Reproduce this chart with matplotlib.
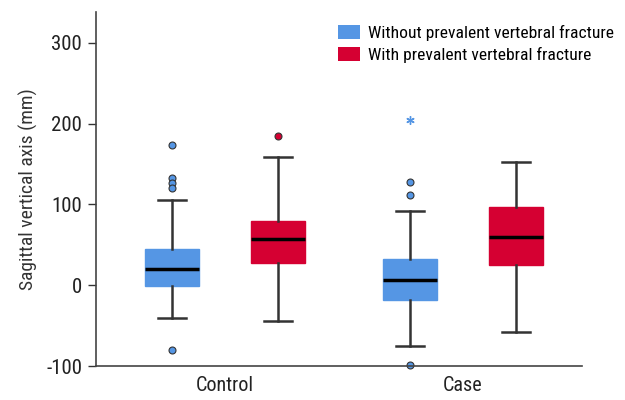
import numpy as np
import matplotlib.pyplot as plt

plt.rcParams['font.family'] = ['Roboto Condensed', 'Liberation Sans Narrow', 'Liberation Sans', 'DejaVu Sans']

groups = ['Control', 'Case']
series = ['Without prevalent vertebral fracture', 'With prevalent vertebral fracture']
colors = ['#5596e4', '#d50032']

# five-number summaries: [whislo, q1, med, q3, whishi]
without_stats = [[-40, -1, 20, 45, 105],
                 [-75, -18, 7, 33, 92]]
with_stats = [[-44, 28, 57, 80, 158],
              [-58, 25, 59, 97, 152]]
without_fliers = [[174, 133, 127, 120, -80],
                  [128, 112, -99]]
with_fliers = [[184], []]
without_extreme = [[], [204]]

yticks = [-100, 0, 100, 200, 300]

fig = plt.figure(figsize=(6.25, 4), dpi=100)
ax = fig.add_axes([0.1536, 0.085, 0.7776, 0.885])

pos = np.arange(len(groups))
off = 0.223
w = 0.23

for k, (stats, fliers, col) in enumerate([(without_stats, without_fliers, colors[0]),
                                           (with_stats, with_fliers, colors[1])]):
    sgn = -1 if k == 0 else 1
    bstats = []
    for i in range(len(groups)):
        lo, q1, med, q3, hi = stats[i]
        bstats.append(dict(whislo=lo, q1=q1, med=med, q3=q3, whishi=hi, fliers=fliers[i]))
    ax.bxp(bstats, positions=pos + sgn * off, widths=w, patch_artist=True,
           showfliers=True, manage_ticks=False,
           boxprops=dict(facecolor=col, edgecolor=col, linewidth=1),
           medianprops=dict(color='black', linewidth=2.5),
           whiskerprops=dict(color='#333333', linewidth=1.8),
           capprops=dict(color='#333333', linewidth=1.8),
           capwidths=w / 2,
           flierprops=dict(marker='o', markerfacecolor=col, markeredgecolor='#333333',
                           markeredgewidth=0.8, markersize=5, clip_on=False))

for i in range(len(groups)):
    if without_extreme[i]:
        ax.plot([pos[i] - off] * len(without_extreme[i]), without_extreme[i],
                linestyle='none', marker=(6, 2, 0), markersize=6,
                markeredgecolor=colors[0], markeredgewidth=1)

ax.set_xlim(-0.542, 1.5)
ax.set_ylim(-100, 338)
ax.set_xticks(pos)
ax.set_xticklabels(groups, fontsize=14.5, color='#222222')
ax.tick_params(axis='x', length=0, pad=7)
ax.set_yticks(yticks)
ax.set_yticklabels([str(v) for v in yticks], fontsize=15, color='#222222')
ax.tick_params(axis='y', length=6, width=1, color='#333333', pad=4)
ax.set_ylabel('Sagittal vertical axis (mm)', fontsize=14, color='#333333', labelpad=6)

for s in ['top', 'right']:
    ax.spines[s].set_visible(False)
for s in ['left', 'bottom']:
    ax.spines[s].set_color('#444444')
    ax.spines[s].set_linewidth(1.2)

handles = [plt.Rectangle((0, 0), 1, 1, facecolor=c, edgecolor='none') for c in colors]
ax.legend(handles, series, loc='upper left', bbox_to_anchor=(0.465, 1.008), frameon=False,
          fontsize=12.6, handlelength=1.25, handleheight=0.8, handletextpad=0.5,
          labelspacing=0.35)

fig.savefig('out.png', dpi=100)
